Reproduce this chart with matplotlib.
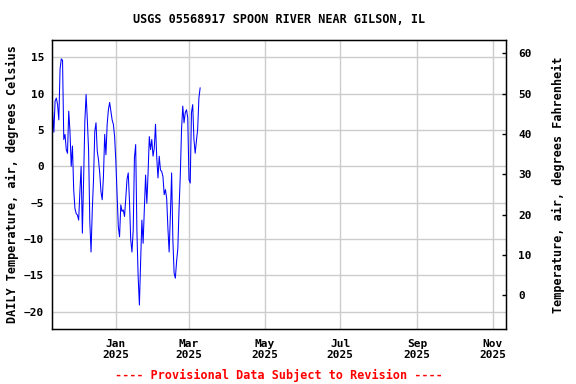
import numpy as np
import pandas as pd
import matplotlib
matplotlib.use("Agg")
import matplotlib.pyplot as plt
import matplotlib.dates as mdates

# -----------------------------
# Data (daily air temperature, deg C)
# -----------------------------
start_date = "2024-11-11"
temp_c = [
    7.5, 4.7, 9.0, 9.4, 8.5, 6.4, 13.4, 14.8, 14.6, 3.7,
    4.4, 2.3, 1.8, 7.6, 4.8, 0.0, 2.8, -3.2, -5.8, -6.5,
    -6.7, -7.4, -3.5, 0.0, -9.2, -1.8, 6.2, 9.9, 6.4, 2.3,
    -7.6, -11.8, -6.0, -1.8, 4.8, 6.0, 2.1, 0.9, -0.9, -3.5,
    -4.6, -1.4, 4.4, 1.6, 5.8, 7.8, 8.8, 7.6, 6.4, 5.8,
    4.1, 0.7, -3.9, -8.3, -9.7, -5.3, -6.2, -6.0, -6.9, -4.4,
    -1.8, -0.9, -4.8, -10.1, -11.8, -8.8, 1.2, 3.0, -9.0, -15.2,
    -19.1, -13.1, -7.4, -10.6, -5.8, -1.2, -5.1, -0.9, 4.1, 2.3,
    3.7, 1.4, 2.5, 5.8, 1.2, -1.6, 1.4, -0.5, -0.7, -1.4,
    -3.9, -3.2, -4.4, -8.5, -11.8, -6.7, -0.9, -10.1, -14.7, -15.4,
    -13.1, -11.3, -5.8, -1.2, 5.1, 8.3, 6.0, 7.4, 7.8, 6.7,
    -1.8, -2.3, 7.4, 8.5, 3.7, 1.8, 3.5, 5.1, 9.4, 10.8,
]
dates = pd.date_range(start_date, periods=len(temp_c), freq="D")

title = "USGS 05568917 SPOON RIVER NEAR GILSON, IL"
left_label = "DAILY Temperature, air, degrees Celsius"
right_label = "Temperature, air, degrees Fahrenheit"
footer = "---- Provisional Data Subject to Revision ----"

c_ticks = [15, 10, 5, 0, -5, -10, -15, -20]
f_ticks = [0, 10, 20, 30, 40, 50, 60]
x_ticks = ["2025-01-01", "2025-03-01", "2025-05-01", "2025-07-01", "2025-09-01", "2025-11-01"]
x_lim = ("2024-11-10 12:00", "2025-11-11 08:00")
c_lim = (-22.4, 17.4)


def c_to_f(c):
    return c * 9.0 / 5.0 + 32.0


# -----------------------------
# Plot
# -----------------------------
plt.rcParams["font.family"] = "DejaVu Sans Mono"
plt.rcParams["font.weight"] = "bold"

fig = plt.figure(figsize=(5.76, 3.84), dpi=100)
ax = fig.add_axes([52 / 576, 1 - 329 / 384, (505.5 - 52) / 576, (329 - 40) / 384])

ax.plot(dates, temp_c, color="#0000ff", linewidth=0.75)

ax.set_xlim(pd.Timestamp(x_lim[0]), pd.Timestamp(x_lim[1]))
ax.set_ylim(*c_lim)
ax.set_yticks(c_ticks)
ax.set_xticks(pd.to_datetime(x_ticks))
ax.xaxis.set_major_formatter(mdates.DateFormatter("%b\n%Y"))

ax.grid(True, color="#cccccc", linewidth=1.0)
ax.set_axisbelow(True)
ax.tick_params(axis="both", length=0, labelsize=8)
ax.tick_params(axis="y", pad=5.5)
ax.tick_params(axis="x", pad=7)
for sp in ax.spines.values():
    sp.set_linewidth(1.0)

ax.set_ylabel(left_label, fontsize=8.5, fontweight="bold", labelpad=4)

# Fahrenheit twin axis
ax2 = ax.twinx()
ax2.set_ylim(c_to_f(c_lim[0]), c_to_f(c_lim[1]))
ax2.set_yticks(f_ticks)
ax2.tick_params(axis="y", direction="in", length=3, width=1, labelsize=8, pad=9)
ax2.set_ylabel(right_label, fontsize=8.5, fontweight="bold", labelpad=15)

ax.set_title(title, fontsize=8.5, fontweight="bold", pad=12)
fig.text((52 + 505.5) / 2 / 576, 1 - 375 / 384, footer, color="red",
         fontsize=8.5, fontweight="bold", ha="center", va="center")

fig.savefig("out.png", dpi=100)
